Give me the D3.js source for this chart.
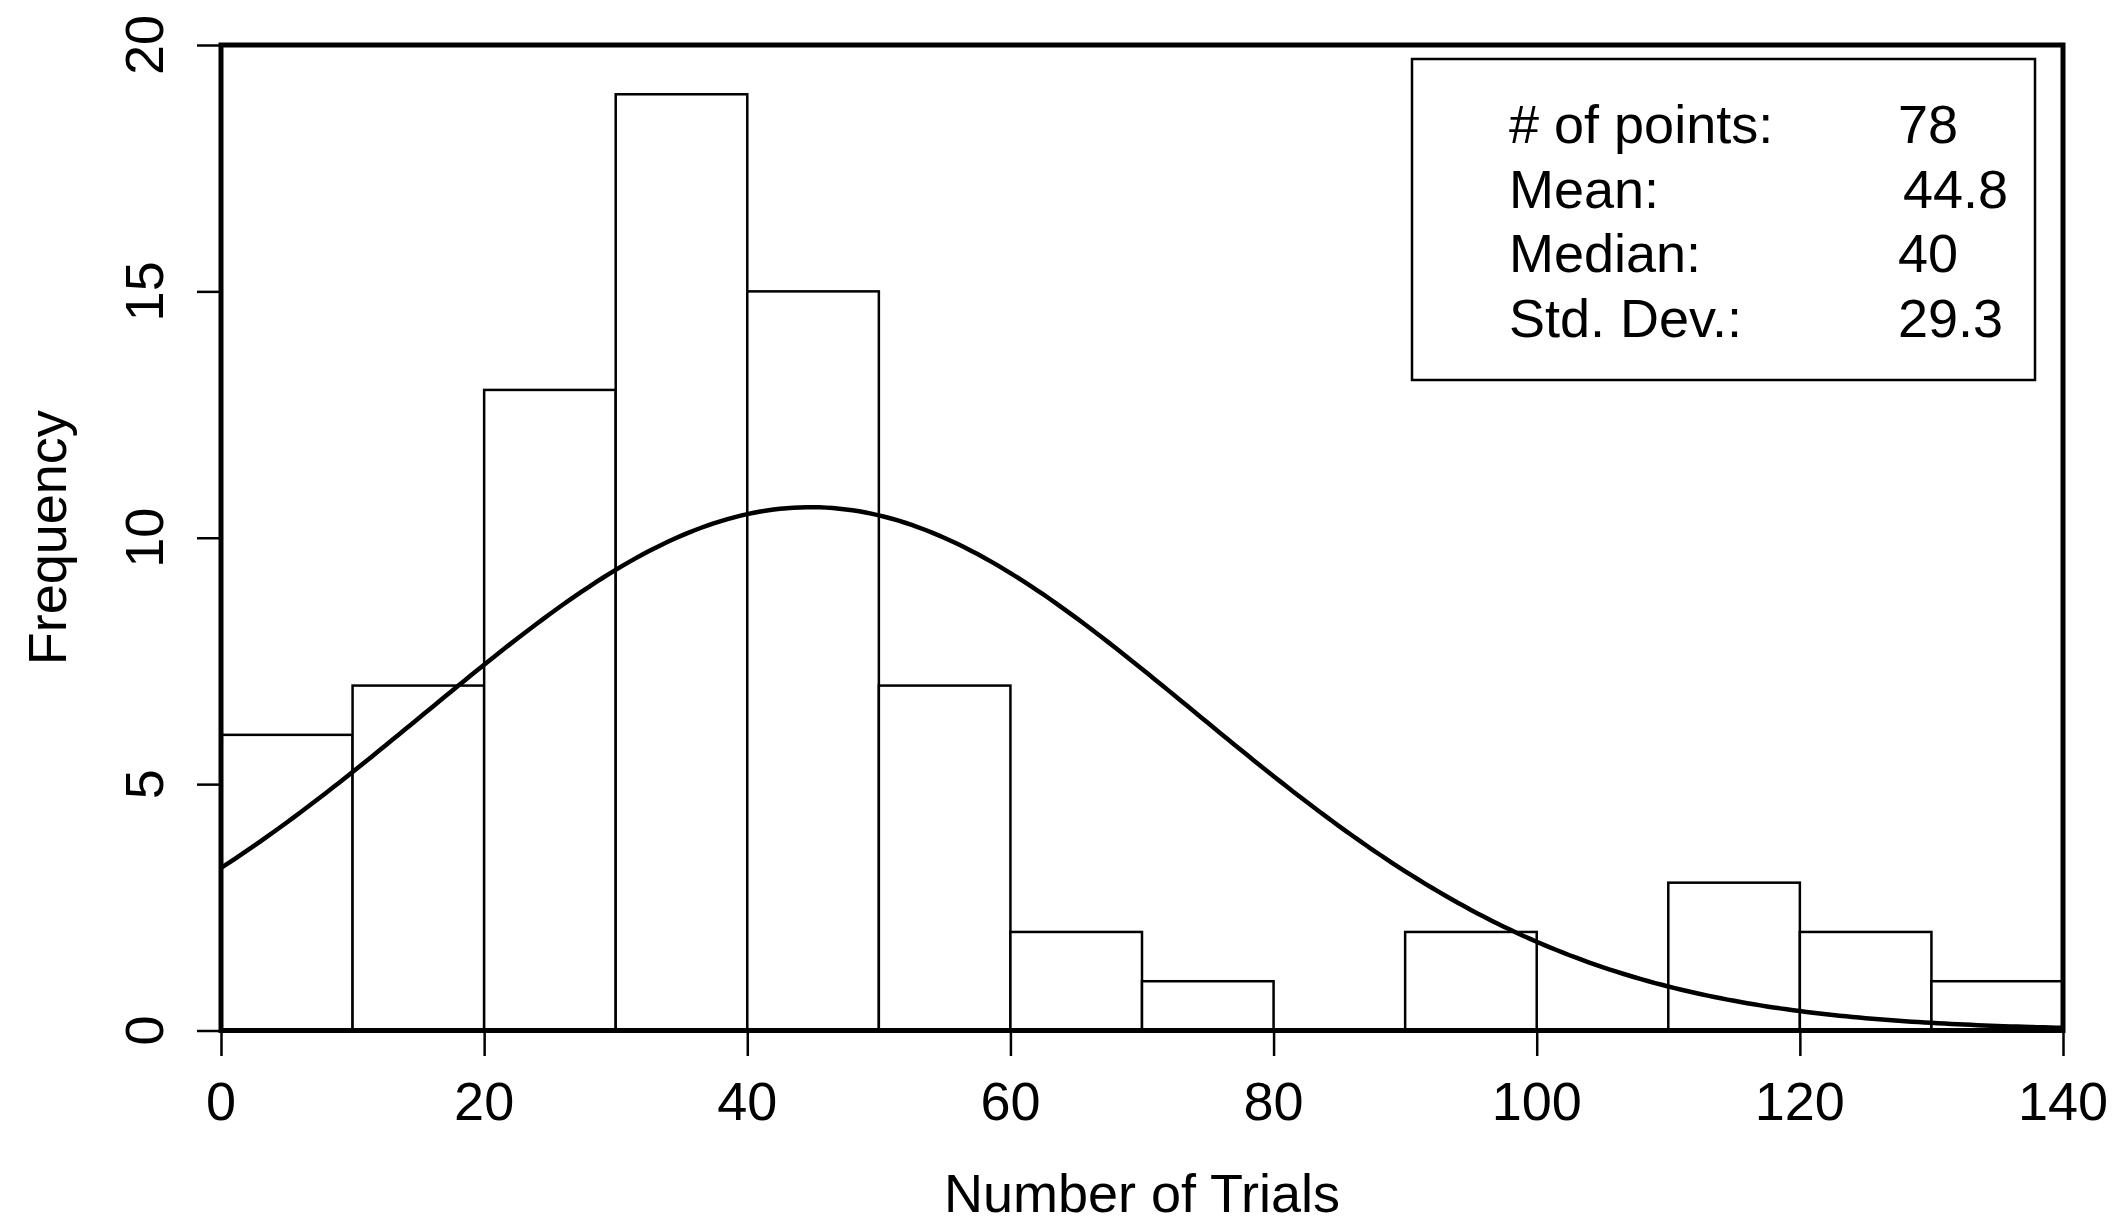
<!DOCTYPE html>
<html>
<head>
<meta charset="utf-8">
<style>
  body { margin: 0; background: #fff; }
  text { font-family: "Liberation Sans", Arial, Helvetica, sans-serif; fill: #000; font-size: 54px; }
  .axis .domain { display: none; }
</style>
</head>
<body>
<svg width="2112" height="1225"></svg>
<script src="https://cdn.jsdelivr.net/npm/d3@7"></script>
<script>
// histogram data: bins of width 10
var binStarts = [0, 10, 20, 30, 40, 50, 60, 70, 80, 90, 100, 110, 120, 130];
var binCounts = [6, 7, 13, 19, 15, 7, 2, 1, 0, 2, 0, 3, 2, 1];
var binWidth = 10;

var xTicks = [0, 20, 40, 60, 80, 100, 120, 140];
var yTicks = [0, 5, 10, 15, 20];

var statLabels = ["# of points:", "Mean:", "Median:", "Std. Dev.:"];
var statValues = ["78", "44.8", "40", "29.3"];

// fitted normal curve parameters
var nPoints = 78, meanVal = 44.8, sdVal = 29.3;

var svg = d3.select("svg"),
    plotL = 221, plotR = 2063, plotT = 45, plotB = 1030.5;

var x = d3.scaleLinear().domain([0, 140]).range([plotL, plotR]);
var y = d3.scaleLinear().domain([0, 20]).range([plotB, plotT]);

// bars
svg.append("g")
  .selectAll("rect")
  .data(binStarts)
  .enter().append("rect")
    .attr("x", function(d) { return x(d); })
    .attr("y", function(d, i) { return y(binCounts[i]); })
    .attr("width", function(d) { return x(d + binWidth) - x(d); })
    .attr("height", function(d, i) { return y(0) - y(binCounts[i]); })
    .attr("fill", "#fff")
    .attr("stroke", "#000")
    .attr("stroke-width", 2.5);

// normal density curve scaled to counts
var curvePts = d3.range(0, 140.01, 0.5).map(function(v) {
  var z = (v - meanVal) / sdVal;
  return [v, nPoints * binWidth * Math.exp(-0.5 * z * z) / (sdVal * Math.sqrt(2 * Math.PI))];
});
svg.append("path")
  .datum(curvePts)
  .attr("fill", "none")
  .attr("stroke", "#000")
  .attr("stroke-width", 4.5)
  .attr("d", d3.line().x(function(d) { return x(d[0]); }).y(function(d) { return y(d[1]); }));

// axes (tick marks only, labels placed below)
svg.append("g")
  .attr("class", "axis")
  .attr("transform", "translate(0," + plotB + ")")
  .call(d3.axisBottom(x).tickValues(xTicks).tickSize(25.5).tickFormat(""));
svg.append("g")
  .attr("class", "axis")
  .attr("transform", "translate(" + plotL + ",0)")
  .call(d3.axisLeft(y).tickValues(yTicks).tickSize(24).tickFormat(""));
svg.selectAll(".axis line").attr("stroke", "#000").attr("stroke-width", 2.5);

svg.append("g").selectAll("text")
  .data(xTicks)
  .enter().append("text")
    .attr("x", function(d) { return x(d); })
    .attr("y", 1120)
    .attr("text-anchor", "middle")
    .text(function(d) { return d; });

svg.append("g").selectAll("text")
  .data(yTicks)
  .enter().append("text")
    .attr("transform", function(d) { return "translate(163," + y(d) + ") rotate(-90)"; })
    .attr("text-anchor", "middle")
    .text(function(d) { return d; });

// axis titles
svg.append("text")
  .attr("x", (plotL + plotR) / 2)
  .attr("y", 1212)
  .attr("text-anchor", "middle")
  .text("Number of Trials");

svg.append("text")
  .attr("transform", "translate(66," + (plotT + plotB) / 2 + ") rotate(-90)")
  .attr("text-anchor", "middle")
  .text("Frequency");

// stats box
svg.append("rect")
  .attr("x", 1412).attr("y", 59)
  .attr("width", 623).attr("height", 321)
  .attr("fill", "#fff")
  .attr("stroke", "#000")
  .attr("stroke-width", 2.5);

var stats = svg.append("g");
stats.selectAll("text.lab")
  .data(statLabels)
  .enter().append("text")
    .attr("class", "lab")
    .attr("x", 1509)
    .attr("y", function(d, i) { return 143 + i * 64.7; })
    .text(function(d) { return d; });
stats.selectAll("text.val")
  .data(statValues)
  .enter().append("text")
    .attr("class", "val")
    .attr("x", function(d, i) { return i == 1 ? 1903 : 1898; })
    .attr("y", function(d, i) { return 143 + i * 64.7; })
    .text(function(d) { return d; });

// frame on top
svg.append("rect")
  .attr("x", plotL).attr("y", plotT)
  .attr("width", plotR - plotL).attr("height", plotB - plotT)
  .attr("fill", "none")
  .attr("stroke", "#000")
  .attr("stroke-width", 5);
</script>
</body>
</html>
